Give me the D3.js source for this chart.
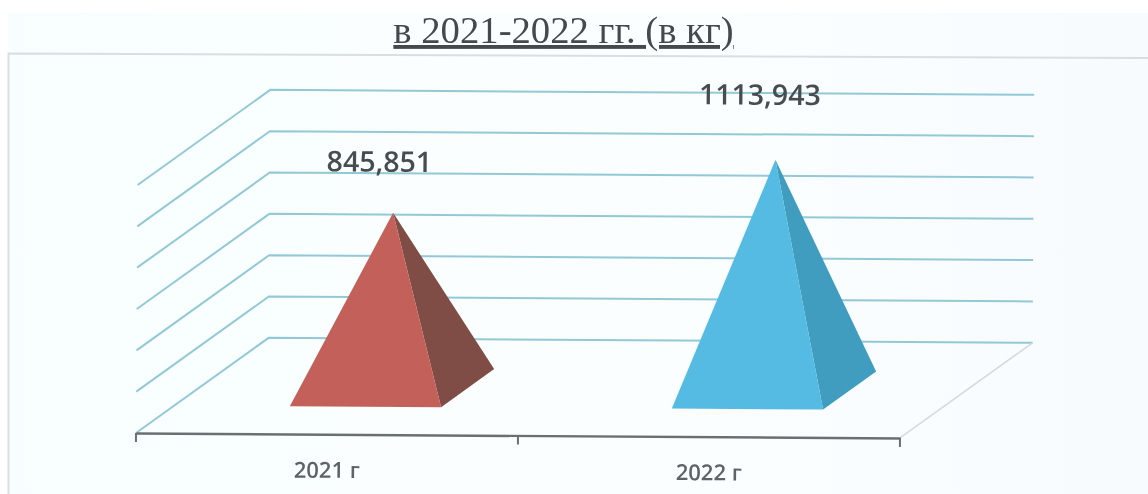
<!DOCTYPE html>
<html>
<head>
<meta charset="utf-8">
<script src="https://cdn.jsdelivr.net/npm/d3@7"></script>
<style>
html,body{margin:0;padding:0;background:#fff;overflow:hidden}
svg{display:block}
</style>
</head>
<body>
<script>
const titleText = "в 2021-2022 гг. (в кг)";
const categories = ["2021 г", "2022 г"];
const values = [845.851, 1113.943];
const valueLabels = ["845,851", "1113,943"];
const gridTicks = [0, 200, 400, 600, 800, 1000, 1200];
const faceColors = ["#c4605a", "#54bbe3"];
const sideColors = ["#7f4d45", "#3f9dbf"];

const W = 1148, H = 494;
const floorLeft = 136, floorRight = 900, floorY = 433;
const depthX = 132, depthY = 96;

const svg = d3.select("body").append("svg").attr("width", W).attr("height", H);
const defs = svg.append("defs");
defs.append("filter").attr("id", "soft")
  .attr("x", "-2%").attr("y", "-2%").attr("width", "104%").attr("height", "104%")
  .append("feGaussianBlur").attr("stdDeviation", 0.6);
const bgGrad = defs.append("linearGradient").attr("id", "paper");
bgGrad.append("stop").attr("offset", "0").attr("stop-color", "#f8feff");
bgGrad.append("stop").attr("offset", "0.6").attr("stop-color", "#fbfeff");
bgGrad.append("stop").attr("offset", "1").attr("stop-color", "#f7fbfe");

const root = svg.append("g").attr("filter", "url(#soft)");

// paper and frame
root.append("rect").attr("x", 8).attr("y", 13).attr("width", W - 8).attr("height", H - 13).attr("fill", "url(#paper)");
root.append("path").attr("d", `M8.5,${H}V53.5L${W},58`).attr("fill", "none").attr("stroke", "#d9dfdf").attr("stroke-width", 2);

// title
root.append("text").attr("x", 563.5).attr("y", 43)
  .attr("text-anchor", "middle")
  .attr("font-family", "Liberation Serif, serif").attr("font-size", 38.7)
  .attr("fill", "#45494c").attr("text-decoration", "underline")
  .text(titleText);

// the chart leans slightly, as in the photographed page
const plot = root.append("g").attr("transform", `rotate(0.37 ${floorLeft} ${floorY})`);

const x = d3.scaleBand().domain(categories).range([floorLeft, floorRight])
  .paddingInner(0.604).paddingOuter(0.302);
const y = d3.scaleLinear().domain([0, 1200]).range([floorY, floorY - 248]);
const project = (px, depth, v) => [px + depthX * depth, y(v) - depthY * depth];
const line = d3.line();

// grid: side wall and back wall
plot.append("g").selectAll("path").data(gridTicks).join("path")
  .attr("d", t => line([project(floorLeft, 0, t), project(floorLeft, 1, t), project(floorRight, 1, t)]))
  .attr("fill", "none").attr("stroke", "#93c9d6").attr("stroke-width", 2);

// floor's right edge
plot.append("path")
  .attr("d", line([project(floorRight, 0, 0), project(floorRight, 1, 0)]))
  .attr("fill", "none").attr("stroke", "#d5dada").attr("stroke-width", 1.6);

// pyramids
const baseFront = 0.29, baseBack = 0.69, apexDepth = 0.49;
const pyramids = plot.append("g").selectAll("g").data(categories).join("g");
pyramids.append("path")
  .attr("d", (c, i) => {
    const x1 = x(c) + x.bandwidth();
    return line([
      project(x(c) + x.bandwidth() / 2, apexDepth, values[i]),
      project(x1, baseFront, 0),
      project(x1, baseBack, 0)
    ]) + "Z";
  })
  .attr("fill", (c, i) => sideColors[i]);
pyramids.append("path")
  .attr("d", (c, i) => line([
      project(x(c) + x.bandwidth() / 2, apexDepth, values[i]),
      project(x(c), baseFront, 0),
      project(x(c) + x.bandwidth(), baseFront, 0)
    ]) + "Z")
  .attr("fill", (c, i) => faceColors[i]);

// value labels
const labelRise = [41, 55];
const labelShift = [14, 16];
plot.append("g").selectAll("text").data(categories).join("text")
  .attr("x", (c, i) => project(x(c) + x.bandwidth() / 2, apexDepth, values[i])[0] - labelShift[i])
  .attr("y", (c, i) => project(x(c) + x.bandwidth() / 2, apexDepth, values[i])[1] - labelRise[i])
  .attr("text-anchor", "middle")
  .attr("font-family", "Open Sans, sans-serif").attr("font-size", 28.5).attr("font-weight", 600)
  .attr("fill", "#474d50")
  .text((c, i) => valueLabels[i]);

// category axis
const axis = d3.axisBottom(x).tickSize(0).tickPadding(28);
const axisG = plot.append("g").attr("transform", `translate(0,${floorY})`).call(axis);
axisG.select(".domain").attr("stroke", "#6a6f6f").attr("stroke-width", 2.4);
axisG.selectAll(".tick text")
  .attr("font-family", "Open Sans, sans-serif").attr("font-size", 22).attr("font-weight", 600)
  .attr("fill", "#5e6365");
axisG.append("g").selectAll("line").data([floorLeft, (floorLeft + floorRight) / 2, floorRight]).join("line")
  .attr("x1", d => d).attr("x2", d => d)
  .attr("y1", 0).attr("y2", 9)
  .attr("stroke", "#6a6f6f").attr("stroke-width", 2);
</script>
</body>
</html>
